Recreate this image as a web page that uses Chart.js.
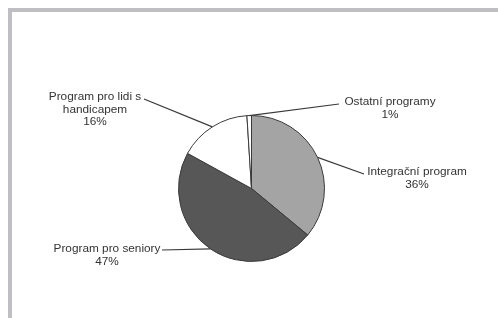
<!DOCTYPE html>
<html lang="cs">

<head>
    <meta charset="UTF-8">
    <title>Programy</title>
    <script src="https://cdn.jsdelivr.net/npm/chart.js"></script>
    <style>
        body {
            margin: 0;
            background: #ffffff;
        }

        .wrap {
            position: relative;
            width: 498px;
            height: 318px;
            overflow: hidden;
        }

        .frame {
            position: absolute;
            left: 8px;
            top: 8px;
            width: 600px;
            height: 400px;
            border-top: 4px solid #bfbec3;
            border-left: 4px solid #bfbec3;
            pointer-events: none;
        }
    </style>
</head>

<body>
    <div class="wrap">
        <canvas id="chart" width="498" height="318"></canvas>
        <div class="frame"></div>
    </div>

    <script>
        // data
        const categories = ['Integrační program', 'Program pro seniory', 'Program pro lidi s handicapem', 'Ostatní programy'];
        const values = [36, 47, 16, 1];
        // how each label is broken into lines
        const labelLines = [
            ['Integrační program'],
            ['Program pro seniory'],
            ['Program pro lidi s', 'handicapem'],
            ['Ostatní programy']
        ];
        const fills = ['#a4a4a4', '#575757', '#ffffff', '#ffffff'];

        // where each callout sits: text centre x, first line y, and where the leader meets the text
        const callouts = [
            { cx: 417, y: 172, ax: 364, ay: 174 },
            { cx: 107, y: 249, ax: 162, ay: 250 },
            { cx: 95, y: 97, ax: 144, ay: 99 },
            { cx: 390, y: 102, ax: 339, ay: 104 }
        ];

        const calloutPlugin = {
            id: 'callouts',
            afterDraw(chart) {
                const ctx = chart.ctx;
                const meta = chart.getDatasetMeta(0);
                ctx.save();
                meta.data.forEach(function (arc, i) {
                    const p = arc.getProps(['x', 'y', 'startAngle', 'endAngle', 'outerRadius'], true);
                    const mid = (p.startAngle + p.endAngle) / 2;
                    const ex = p.x + Math.cos(mid) * p.outerRadius;
                    const ey = p.y + Math.sin(mid) * p.outerRadius;
                    const c = callouts[i];

                    ctx.strokeStyle = '#3a3a3a';
                    ctx.lineWidth = 1.2;
                    ctx.beginPath();
                    ctx.moveTo(ex, ey);
                    ctx.lineTo(c.ax, c.ay);
                    ctx.stroke();

                    ctx.fillStyle = '#333333';
                    ctx.font = '11.8px "Liberation Sans", Arial, sans-serif';
                    ctx.textAlign = 'center';
                    ctx.textBaseline = 'middle';
                    const lines = labelLines[i].concat([values[i] + '%']);
                    lines.forEach(function (t, k) {
                        ctx.fillText(t, c.cx, c.y + k * 12.5);
                    });
                });
                ctx.restore();
            }
        };

        new Chart(document.getElementById('chart'), {
            type: 'pie',
            data: {
                labels: categories,
                datasets: [{
                    data: values,
                    backgroundColor: fills,
                    borderColor: '#3a3a3a',
                    borderWidth: 1
                }]
            },
            options: {
                responsive: false,
                animation: false,
                radius: 73,
                layout: {
                    padding: { left: 100, right: 95, top: 110, bottom: 51 }
                },
                plugins: {
                    legend: { display: false },
                    tooltip: { enabled: false }
                }
            },
            plugins: [calloutPlugin]
        });
    </script>
</body>

</html>
